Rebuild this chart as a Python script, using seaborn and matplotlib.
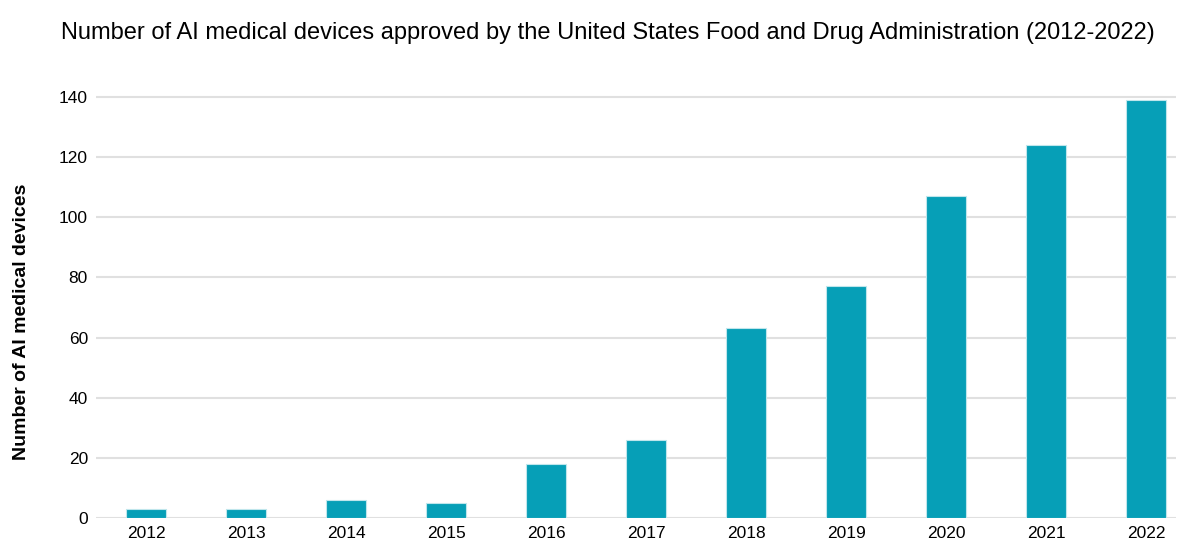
import matplotlib
matplotlib.use("Agg")
import matplotlib.pyplot as plt
import seaborn as sns
import pandas as pd

# data
years = ["2012", "2013", "2014", "2015", "2016", "2017",
         "2018", "2019", "2020", "2021", "2022"]
devices = [3, 3, 6, 5, 18, 26, 63, 77, 107, 124, 139]

df = pd.DataFrame({"year": years, "devices": devices})

sns.set_style("white")
plt.rcParams["font.family"] = ["Liberation Sans Narrow", "Liberation Sans", "DejaVu Sans"]
plt.rcParams["text.color"] = "black"
plt.rcParams["xtick.color"] = "black"
plt.rcParams["ytick.color"] = "black"
plt.rcParams["axes.labelcolor"] = "black"

fig, ax = plt.subplots(figsize=(11.88, 5.43), dpi=100)
sns.barplot(data=df, x="year", y="devices", color="#069fb7", width=0.4,
            saturation=1, edgecolor="#bfe6ec", linewidth=0.8, ax=ax, zorder=3)

ax.set_ylim(0, 148)
ax.set_yticks(range(0, 141, 20))
ax.set_xlim(-0.5, 10.3)
ax.yaxis.grid(True, color="#e0e0e0", linewidth=1.5, zorder=0)
ax.set_axisbelow(True)
sns.despine(left=True, bottom=True)
ax.tick_params(axis="both", length=0, labelsize=12.5, pad=6)
ax.set_xlabel("")
ax.set_ylabel("Number of AI medical devices", fontsize=14, fontweight="bold")
ax.yaxis.set_label_coords(-0.061, 0.44)

fig.suptitle("Number of AI medical devices approved by the United States Food and Drug Administration (2012-2022)",
             fontsize=17, x=0.512, y=0.96)

fig.subplots_adjust(left=0.081, right=0.99, top=0.866, bottom=0.046)
fig.savefig("out.png", dpi=100)
